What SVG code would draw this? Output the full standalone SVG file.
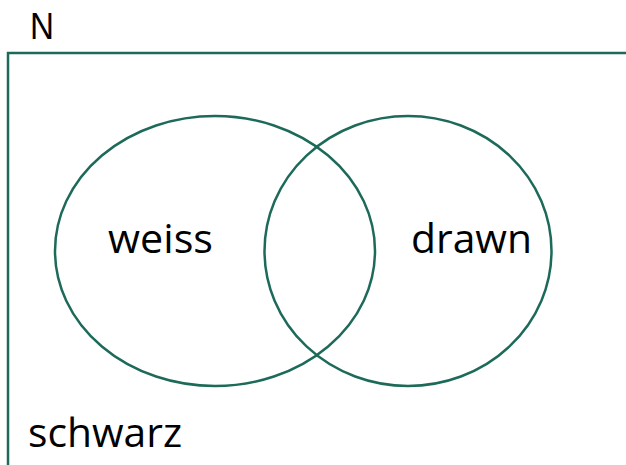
<svg xmlns="http://www.w3.org/2000/svg" width="626" height="465" viewBox="0 0 626 465">
<style>
.ln{fill:none;stroke:#1d6a5a;stroke-width:2.5}
.t{font-family:"Open Sans","Liberation Sans",Arial,sans-serif;font-size:40px;fill:#000}
.n{font-family:"Liberation Sans",Arial,sans-serif;font-size:37px;fill:#000}
</style>
<rect x="0" y="0" width="626" height="465" fill="#fff"/>
<g id="universe">
<path class="ln" d="M8,466 V53 H627"/>
<text class="n" x="30" y="39" textLength="24" lengthAdjust="spacingAndGlyphs">N</text>
<text class="t" x="28" y="447" textLength="154" lengthAdjust="spacingAndGlyphs">schwarz</text>
</g>
<g id="weiss">
<ellipse class="ln" cx="215" cy="251" rx="160" ry="135"/>
<text class="t" x="108" y="253" textLength="105" lengthAdjust="spacingAndGlyphs">weiss</text>
</g>
<g id="drawn">
<ellipse class="ln" cx="408" cy="251" rx="143.5" ry="135"/>
<text class="t" x="411" y="253" textLength="121" lengthAdjust="spacingAndGlyphs">drawn</text>
</g>
<g id="connectors"/>
</svg>
